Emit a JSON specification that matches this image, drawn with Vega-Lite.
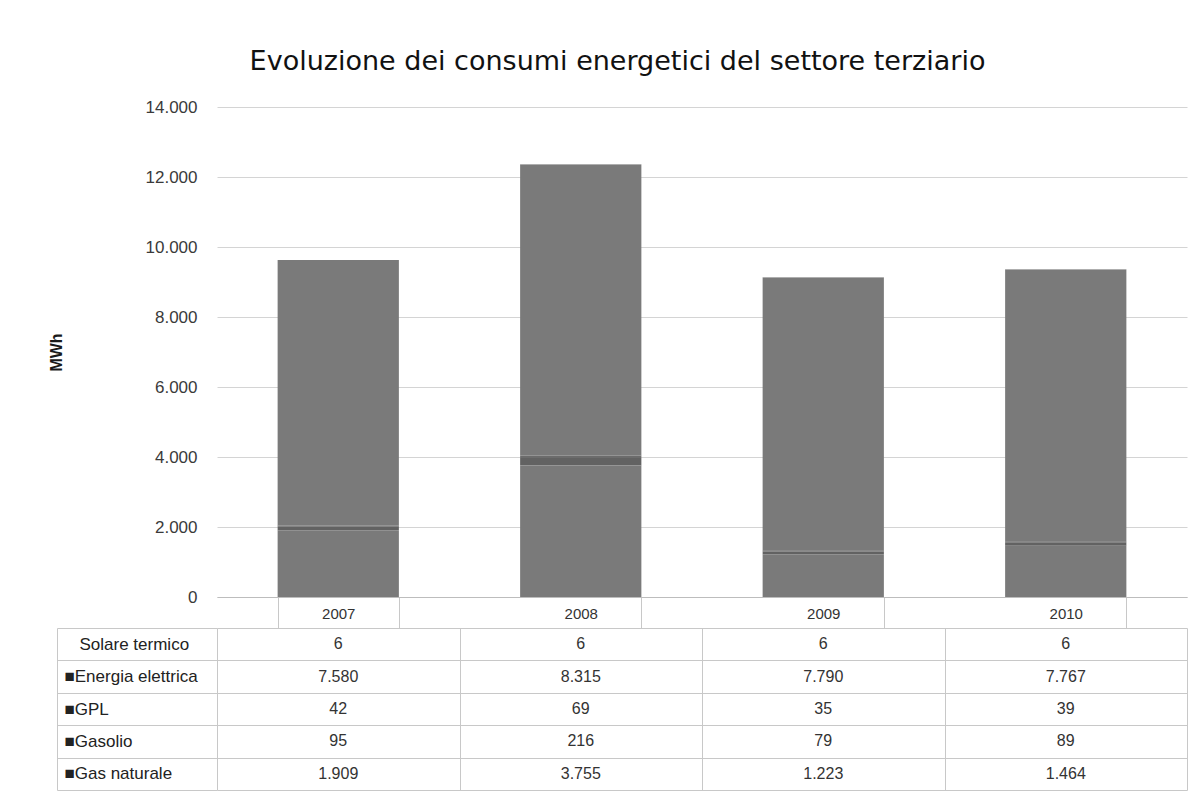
{
  "$schema": "https://vega.github.io/schema/vega-lite/v6.json",
  "background": "white",
  "padding": {"left": 48, "top": 48, "right": 8, "bottom": 10},
  "title": {
    "text": "Evoluzione dei consumi energetici del settore terziario",
    "fontSize": 27,
    "font": "DejaVu Sans",
    "fontWeight": "normal",
    "color": "#111111",
    "anchor": "middle",
    "offset": 22
  },
  "config": {
    "locale": {
      "number": {"decimal": ",", "thousands": ".", "grouping": [3], "currency": ["€", ""]}
    },
    "font": "Liberation Sans",
    "view": {"stroke": null}
  },
  "datasets": {
    "serie": [
      {"serie": "Gas naturale", "ordine": 1},
      {"serie": "Gasolio", "ordine": 2},
      {"serie": "GPL", "ordine": 3},
      {"serie": "Energia elettrica", "ordine": 4},
      {"serie": "Solare termico", "ordine": 5}
    ],
    "consumi": [
      {"anno": "2007", "serie": "Solare termico", "mwh": 6},
      {"anno": "2007", "serie": "Energia elettrica", "mwh": 7580},
      {"anno": "2007", "serie": "GPL", "mwh": 42},
      {"anno": "2007", "serie": "Gasolio", "mwh": 95},
      {"anno": "2007", "serie": "Gas naturale", "mwh": 1909},
      {"anno": "2008", "serie": "Solare termico", "mwh": 6},
      {"anno": "2008", "serie": "Energia elettrica", "mwh": 8315},
      {"anno": "2008", "serie": "GPL", "mwh": 69},
      {"anno": "2008", "serie": "Gasolio", "mwh": 216},
      {"anno": "2008", "serie": "Gas naturale", "mwh": 3755},
      {"anno": "2009", "serie": "Solare termico", "mwh": 6},
      {"anno": "2009", "serie": "Energia elettrica", "mwh": 7790},
      {"anno": "2009", "serie": "GPL", "mwh": 35},
      {"anno": "2009", "serie": "Gasolio", "mwh": 79},
      {"anno": "2009", "serie": "Gas naturale", "mwh": 1223},
      {"anno": "2010", "serie": "Solare termico", "mwh": 6},
      {"anno": "2010", "serie": "Energia elettrica", "mwh": 7767},
      {"anno": "2010", "serie": "GPL", "mwh": 39},
      {"anno": "2010", "serie": "Gasolio", "mwh": 89},
      {"anno": "2010", "serie": "Gas naturale", "mwh": 1464}
    ]
  },
  "bounds": "flush",
  "spacing": 31,
  "vconcat": [
    {
      "width": 970,
      "height": 490,
      "data": {"name": "consumi"},
      "transform": [
        {"lookup": "serie", "from": {"data": {"name": "serie"}, "key": "serie", "fields": ["ordine"]}}
      ],
      "mark": {"type": "bar"},
      "encoding": {
        "x": {
          "field": "anno",
          "type": "nominal",
          "scale": {"paddingInner": 0.5, "paddingOuter": 0.25},
          "axis": {
            "title": null,
            "labelAngle": 0,
            "labelFontSize": 15,
            "labelColor": "#333333",
            "tickBand": "extent",
            "tickSize": 31,
            "tickColor": "#c8c8c8",
            "labelPadding": -22,
            "domainColor": "#bdbdbd",
            "grid": false
          }
        },
        "y": {
          "field": "mwh",
          "type": "quantitative",
          "stack": "zero",
          "scale": {"domain": [0, 14000]},
          "axis": {
            "title": "MWh",
            "values": [0, 2000, 4000, 6000, 8000, 10000, 12000, 14000],
            "format": ",d",
            "labelFontSize": 17,
            "labelColor": "#3a3a3a",
            "labelPadding": 20,
            "ticks": false,
            "domain": false,
            "gridColor": "#d4d4d4",
            "titleFontSize": 16,
            "titleFontWeight": "bold",
            "titleColor": "#1a1a1a",
            "titlePadding": 81
          }
        },
        "order": {"field": "ordine", "type": "quantitative", "sort": "ascending"},
        "color": {
          "field": "serie",
          "type": "nominal",
          "scale": {
            "domain": ["Gas naturale", "Gasolio", "GPL", "Energia elettrica", "Solare termico"],
            "range": ["#7a7a7a", "#626262", "#6c6c6c", "#7a7a7a", "#8a8a8a"]
          },
          "legend": null
        }
      }
    },
    {
      "width": 970,
      "height": 162,
      "data": {"name": "consumi"},
      "mark": {"type": "text", "fontSize": 16, "color": "#333333"},
      "encoding": {
        "x": {
          "field": "anno",
          "type": "nominal",
          "scale": {"paddingInner": 0, "paddingOuter": 0},
          "axis": {
            "title": null,
            "labels": false,
            "ticks": false,
            "domain": false,
            "grid": true,
            "tickBand": "extent",
            "gridColor": "#c8c8c8"
          }
        },
        "y": {
          "field": "serie",
          "type": "nominal",
          "sort": ["Solare termico", "Energia elettrica", "GPL", "Gasolio", "Gas naturale"],
          "axis": {
            "title": null,
            "offset": 160,
            "grid": true,
            "gridColor": "#c8c8c8",
            "tickBand": "extent",
            "tickSize": -160,
            "tickColor": "#c8c8c8",
            "domain": true,
            "domainColor": "#c8c8c8",
            "labelAlign": "left",
            "labelPadding": {"condition": {"test": "datum.value == 'Solare termico'", "value": 138}, "value": 153},
            "labelFontSize": 17,
            "labelColor": "#222222",
            "labelExpr": "datum.value == null ? '' : (datum.value == 'Solare termico' ? 'Solare termico' : '\u25a0' + datum.value)"
          }
        },
        "text": {"field": "mwh", "type": "quantitative", "format": ",d"}
      }
    }
  ]
}
